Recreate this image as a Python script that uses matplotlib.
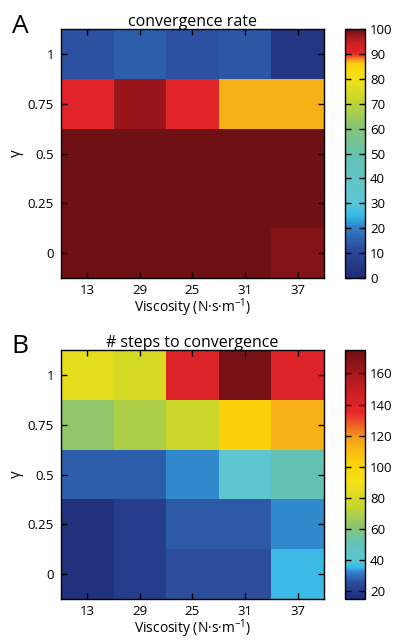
import numpy as np
import matplotlib
matplotlib.use("Agg")
import matplotlib.pyplot as plt
from matplotlib.colors import LinearSegmentedColormap, Normalize

plt.rcParams['font.family'] = ['Open Sans', 'DejaVu Sans']
plt.rcParams['mathtext.fontset'] = 'custom'
plt.rcParams['mathtext.rm'] = 'Open Sans'

viscosity = ['13', '29', '25', '31', '37']
gamma = ['1', '0.75', '0.5', '0.25', '0']

# rows from gamma = 1 (top) to gamma = 0 (bottom)
conv_rate = [
    [13, 15, 13, 14, 4],
    [91, 97.5, 91, 87, 87],
    [100, 100, 100, 100, 100],
    [100, 100, 100, 100, 100],
    [100, 100, 100, 100, 98.5],
]
n_steps = [
    [85, 80, 140, 172, 140],
    [63, 69, 76, 103, 113],
    [28, 28, 33, 42, 50],
    [17, 21, 27, 27, 33],
    [17, 21, 25, 25, 36],
]

# jet-like palette used by both panels, stretched differently
palette = ['#1f2b78', '#2c4c9c', '#2f7fc6', '#36b8e8', '#5cc7d6', '#66c2b0',
           '#8cc66c', '#c9d62c', '#f2e21a', '#fcd20a', '#f5a21c', '#e8262a',
           '#c81e22', '#6e1014']
nodes_a = [0, 12, 20, 25, 30, 50, 62, 72, 80, 86, 87.5, 90, 95, 100]
nodes_b = [15, 25, 32, 35, 40, 52, 62, 75, 90, 102, 118, 135, 150, 175]


def make_cmap(nodes, name):
    lo, hi = nodes[0], nodes[-1]
    pos = [(v - lo) / (hi - lo) for v in nodes]
    return LinearSegmentedColormap.from_list(name, list(zip(pos, palette)))


fig = plt.figure(figsize=(3.93, 6.43), dpi=100)
H = 643.0

panels = [
    ('A', 'convergence rate', conv_rate, nodes_a, list(range(0, 101, 10)), 0.5677, 33),
    ('B', '# steps to convergence', n_steps, nodes_b, list(range(20, 161, 20)), 0.0685, 353),
]

for letter, title, data, nodes, cticks, bottom, letter_y in panels:
    ax = fig.add_axes([0.155, bottom, 0.669, 0.387])
    cax = fig.add_axes([0.878, bottom, 0.051, 0.387])
    cmap = make_cmap(nodes, 'cm' + letter)
    norm = Normalize(vmin=nodes[0], vmax=nodes[-1])
    im = ax.imshow(np.array(data), cmap=cmap, norm=norm, aspect='auto',
                   interpolation='nearest')
    ax.set_xticks(range(len(viscosity)))
    ax.set_xticklabels(viscosity)
    ax.set_yticks(range(len(gamma)))
    ax.set_yticklabels(gamma)
    ax.tick_params(direction='in', length=4, width=1, labelsize=9.5,
                   top=True, right=True, pad=5)
    ax.tick_params(axis='x', pad=4)
    ax.set_title(title, fontsize=11.5, pad=2)
    ax.set_xlabel('Viscosity (N·s·m$\\mathregular{^{-1}}$)', fontsize=10, labelpad=0)
    ax.set_ylabel('γ', fontsize=11, labelpad=3)
    for s in ax.spines.values():
        s.set_linewidth(1)
    cb = fig.colorbar(im, cax=cax, ticks=cticks)
    cb.outline.set_linewidth(1)
    cax.tick_params(direction='in', length=4, width=1, labelsize=9.5,
                    left=True, right=True)
    fig.text(0.03, 1 - letter_y / H, letter, fontsize=19, va='baseline',
             ha='left')

fig.savefig('out.png', dpi=100)
